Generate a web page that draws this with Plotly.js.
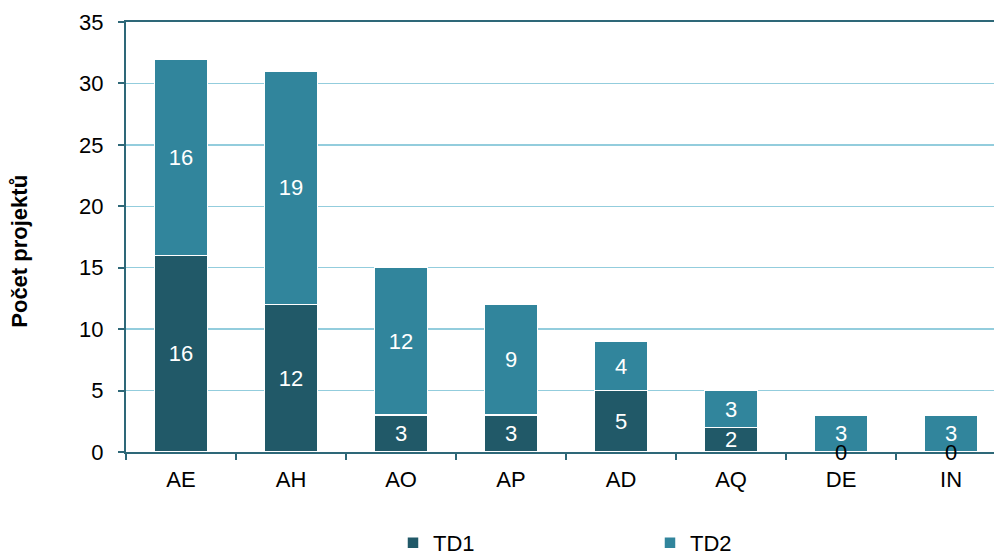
<!DOCTYPE html>
<html>
<head>
<meta charset="utf-8">
<script src="https://cdn.plot.ly/plotly-3.0.1.min.js"></script>
<style>html,body{margin:0;padding:0;background:#fff;}#chart{width:994px;height:553px;}</style>
</head>
<body>
<div id="chart"></div>
<script>
const categories = ["AE", "AH", "AO", "AP", "AD", "AQ", "DE", "IN"];
const td1 = [16, 12, 3, 3, 5, 2, 0, 0];
const td2 = [16, 19, 12, 9, 4, 3, 3, 3];
const seriesNames = ["TD1", "TD2"];
const yTicks = [0, 5, 10, 15, 20, 25, 30, 35];
const yTitle = "Počet projektů";

const FONT = "Liberation Sans, Arial, sans-serif";
const FS = 22;
const C1 = "#215968";
const C2 = "#31859C";
const AXIS = "#2E6878";
const GRID = "#93CDDD";

function barTrace(name, values, color) {
  return {
    type: "bar",
    name: name,
    x: categories,
    y: values,
    marker: { color: color, line: { color: "#ffffff", width: 1.5 } },
    text: values.map(v => v === 0 ? "" : String(v)),
    textposition: "inside",
    insidetextanchor: "middle",
    textangle: 0,
    constraintext: "none",
    textfont: { family: FONT, size: FS, color: "#ffffff" },
    hoverinfo: "x+y+name"
  };
}

const data = [barTrace(seriesNames[0], td1, C1), barTrace(seriesNames[1], td2, C2)];

const annotations = [];
[td1, td2].forEach((series) => {
  series.forEach((v, i) => {
    if (v === 0) {
      annotations.push({
        x: categories[i], y: 0, xref: "x", yref: "y",
        text: "0", showarrow: false, xanchor: "center", yanchor: "middle",
        font: { family: FONT, size: FS, color: "#000000" }
      });
    }
  });
});
annotations.push({
  xref: "paper", yref: "paper", x: -0.122, y: 0.466,
  text: "<b>" + yTitle + "</b>", textangle: -90, showarrow: false,
  xanchor: "center", yanchor: "middle",
  font: { family: FONT, size: 22, color: "#000000" }
});

const layout = {
  width: 994, height: 553,
  margin: { l: 126, r: 0, t: 22, b: 101, autoexpand: false },
  paper_bgcolor: "#ffffff", plot_bgcolor: "#ffffff",
  barmode: "stack",
  bargap: 0.52,
  font: { family: FONT, size: FS, color: "#000000" },
  showlegend: true,
  legend: {
    orientation: "h", x: 0.3076, y: -0.2116, xanchor: "left", yanchor: "middle",
    entrywidth: 212, entrywidthmode: "pixels", traceorder: "normal",
    font: { family: FONT, size: FS, color: "#000000" }, itemclick: false
  },
  xaxis: {
    type: "category", range: [-0.5, 7.39],
    showline: true, linecolor: AXIS, linewidth: 2, mirror: true,
    ticks: "outside", tickson: "boundaries", ticklen: 6, tickwidth: 2, tickcolor: AXIS,
    showgrid: false, zeroline: false,
    ticklabelstandoff: 7,
    tickfont: { family: FONT, size: FS, color: "#000000" }
  },
  yaxis: {
    range: [0, 35], tickvals: yTicks, ticktext: yTicks.map(String),
    showline: true, linecolor: AXIS, linewidth: 2,
    ticks: "outside", ticklen: 6, tickwidth: 2, tickcolor: AXIS,
    showgrid: true, gridcolor: GRID, gridwidth: 1.5, zeroline: false,
    ticklabelstandoff: 10,
    tickfont: { family: FONT, size: FS, color: "#000000" }
  },
  annotations: annotations
};

Plotly.newPlot("chart", data, layout, { displayModeBar: false, staticPlot: true });
</script>
</body>
</html>
